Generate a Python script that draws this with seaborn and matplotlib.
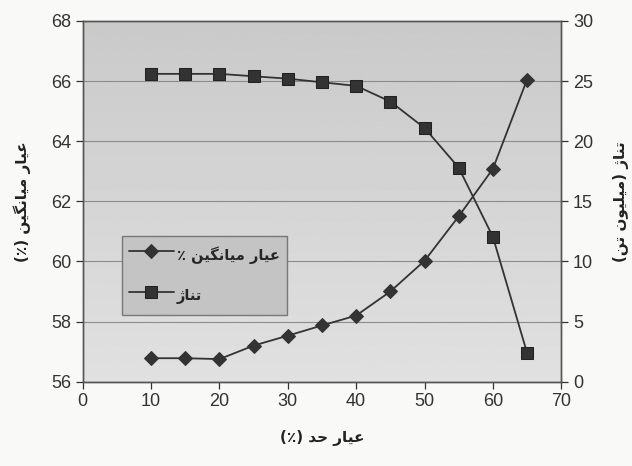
import numpy as np
import matplotlib
matplotlib.use("Agg")
import matplotlib.pyplot as plt
import seaborn as sns

# cut-off grade vs average grade and tonnage
cutoff = [10, 15, 20, 25, 30, 35, 40, 45, 50, 55, 60, 65]
avg_grade = [56.78, 56.78, 56.75, 57.2, 57.53, 57.87, 58.2, 59.0, 60.02, 61.5, 63.08, 66.05]
tonnage = [25.6, 25.6, 25.6, 25.4, 25.2, 24.9, 24.6, 23.3, 21.1, 17.8, 12.05, 2.4]

x_ticks = [0, 10, 20, 30, 40, 50, 60, 70]
y1_ticks = [56, 58, 60, 62, 64, 66, 68]
y2_ticks = [0, 5, 10, 15, 20, 25, 30]

x_label = "عیار حد (٪)"
y1_label = "عیار میانگین (٪)"
y2_label = "تناژ (میلیون تن)"
grade_name = "عیار میانگین ٪"
ton_name = "تناژ"

# matplotlib has no arabic shaping, so pick presentation forms by hand
# (iso, final, initial, medial); None = letter does not join to the next one
FORMS = {
    'ع': ('\uFEC9', '\uFECA', '\uFECB', '\uFECC'),
    'ی': ('\uFBFC', '\uFBFD', '\uFBFE', '\uFBFF'),
    'ا': ('\uFE8D', '\uFE8E', None, None),
    'ر': ('\uFEAD', '\uFEAE', None, None),
    'م': ('\uFEE1', '\uFEE2', '\uFEE3', '\uFEE4'),
    'ن': ('\uFEE5', '\uFEE6', '\uFEE7', '\uFEE8'),
    'گ': ('\uFB92', '\uFB93', '\uFB94', '\uFB95'),
    'ت': ('\uFE95', '\uFE96', '\uFE97', '\uFE98'),
    'ژ': ('\uFB8A', '\uFB8B', None, None),
    'ل': ('\uFEDD', '\uFEDE', '\uFEDF', '\uFEE0'),
    'و': ('\uFEED', '\uFEEE', None, None),
    'ح': ('\uFEA1', '\uFEA2', '\uFEA3', '\uFEA4'),
    'د': ('\uFEA9', '\uFEAA', None, None),
}


def fa(s):
    out = []
    for i, c in enumerate(s):
        if c not in FORMS:
            out.append(c)
            continue
        f = FORMS[c]
        prev = s[i - 1] if i > 0 else ''
        nxt = s[i + 1] if i + 1 < len(s) else ''
        jp = prev in FORMS and FORMS[prev][2] is not None
        jn = f[2] is not None and nxt in FORMS
        if jp and jn:
            out.append(f[3])
        elif jp:
            out.append(f[1])
        elif jn:
            out.append(f[2])
        else:
            out.append(f[0])
    vis = ''.join(out)[::-1]
    return vis.translate(str.maketrans('()', ')('))


sns.set_style("white")
plt.rcParams['font.family'] = ['Liberation Sans', 'DejaVu Sans']

fig = plt.figure(figsize=(6.32, 4.66), dpi=100, facecolor='#f9f9f7')
ax = fig.add_axes([0.131, 0.181, 0.757, 0.774])
ax2 = ax.twinx()

# grey gradient of the plot area (darker at top)
grad = np.linspace(0.88, 0.79, 256).reshape(-1, 1)
ax.imshow(grad, extent=[0, 1, 0, 1], transform=ax.transAxes, aspect='auto',
          cmap='gray', vmin=0, vmax=1, origin='lower', zorder=0)

sns.lineplot(x=cutoff, y=avg_grade, ax=ax, color='#333333', lw=1.3,
             marker='D', markersize=7, markeredgecolor='#333333', label=fa(grade_name), legend=False)
sns.lineplot(x=cutoff, y=tonnage, ax=ax2, color='#333333', lw=1.3,
             marker='s', markersize=8, markeredgecolor='#222222', label=fa(ton_name), legend=False)

ax.set_xlim(0, 70)
ax.set_ylim(56, 68)
ax2.set_ylim(0, 30)
ax.set_xticks(x_ticks)
ax.set_yticks(y1_ticks)
ax2.set_yticks(y2_ticks)

ax.set_axisbelow(True)
ax.grid(axis='y', color='#8c8c8c', lw=0.8)
ax.grid(axis='x', visible=False)
ax2.grid(False)

for a in (ax, ax2):
    for sp in a.spines.values():
        sp.set_color('#555555')
        sp.set_linewidth(1.0)
    a.tick_params(labelsize=13, colors='#333333', length=5, width=0.9, direction='out')
ax.tick_params(axis='both', which='both', left=True, bottom=True)
ax2.tick_params(axis='y', right=True)

ax.set_xlabel(fa(x_label), family=['DejaVu Sans'], fontweight='bold', fontsize=11,
              color='#222222', labelpad=14)
ax.set_ylabel(fa(y1_label), family=['DejaVu Sans'], fontweight='bold', fontsize=11,
              color='#222222', labelpad=14)
ax2.set_ylabel(fa(y2_label), family=['DejaVu Sans'], fontweight='bold', fontsize=11,
               color='#222222', rotation=90, labelpad=14)

h1, l1 = ax.get_legend_handles_labels()
h2, l2 = ax2.get_legend_handles_labels()
leg = ax2.legend(h1 + h2, l1 + l2, loc='lower left', bbox_to_anchor=(0.081, 0.184),
                 borderaxespad=0, frameon=True, fancybox=False,
                 handlelength=3.1, handleheight=2.2, handletextpad=0.2,
                 labelspacing=1.1, borderpad=0.5,
                 prop={'family': 'DejaVu Sans', 'weight': 'bold', 'size': 10.5})
leg.get_frame().set_facecolor('#c4c4c4')
leg.get_frame().set_edgecolor('#777777')
leg.get_frame().set_alpha(1)

fig.savefig('out.png', dpi=100, facecolor=fig.get_facecolor())
